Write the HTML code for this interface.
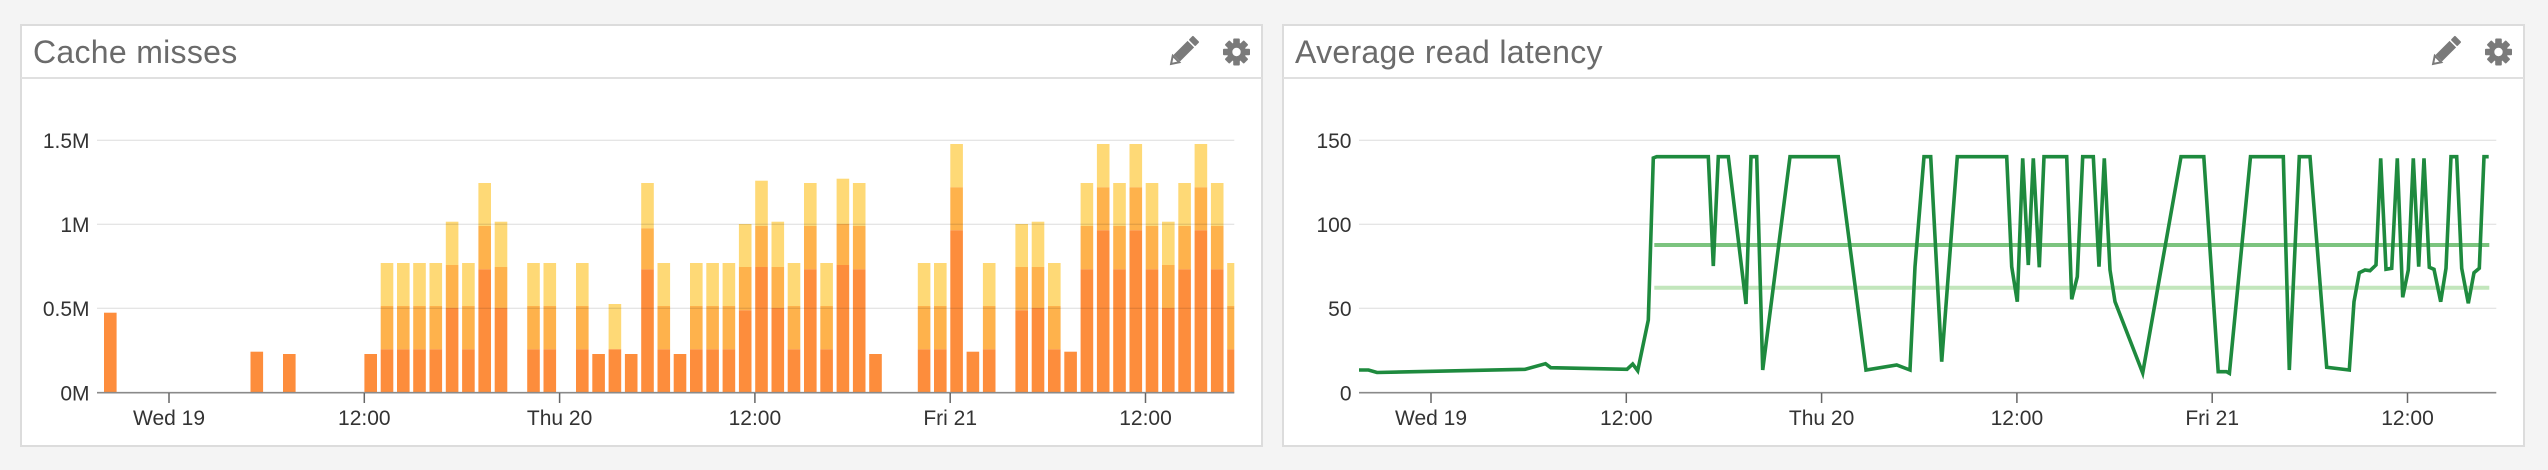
<!DOCTYPE html>
<html>
<head>
<meta charset="utf-8">
<style>
  html, body { margin: 0; padding: 0; }
  body { width: 2548px; height: 470px; overflow: hidden; background: #f4f4f4; }
  svg { display: block; }
  .t { font-family: "Liberation Sans", Arial, sans-serif; }
  .title { font-size: 32px; fill: #6b6b6b; letter-spacing: 0.3px; }
  .lab { font-size: 21px; fill: #333; }
  .d { fill: #fd8d3c; }
  .m { fill: #feb24c; }
  .l { fill: #fed976; }
</style>
</head>
<body>
<svg width="2548" height="470" viewBox="0 0 2548 470" xmlns="http://www.w3.org/2000/svg">
  <defs>
    <clipPath id="cl"><rect x="97" y="100" width="1137.3" height="300"/></clipPath>
    <clipPath id="cr"><rect x="1359" y="100" width="1137.3" height="300"/></clipPath>
    <g id="A"><rect class="l" x="0" y="263" width="12.6" height="43"/><rect class="m" x="0" y="306" width="12.6" height="43.3"/><rect class="d" x="0" y="349.3" width="12.6" height="43.2"/></g>
    <g id="B"><rect class="l" x="0" y="221.7" width="12.6" height="43.3"/><rect class="m" x="0" y="265" width="12.6" height="43"/><rect class="d" x="0" y="308" width="12.6" height="84.5"/></g>
    <g id="B2"><rect class="l" x="0" y="221.7" width="12.6" height="45.3"/><rect class="m" x="0" y="267" width="12.6" height="41"/><rect class="d" x="0" y="308" width="12.6" height="84.5"/></g>
    <g id="C"><rect class="l" x="0" y="183" width="12.6" height="43"/><rect class="m" x="0" y="226" width="12.6" height="43.3"/><rect class="d" x="0" y="269.3" width="12.6" height="123.2"/></g>
    <g id="C2"><rect class="l" x="0" y="183" width="12.6" height="45.3"/><rect class="m" x="0" y="228.3" width="12.6" height="41"/><rect class="d" x="0" y="269.3" width="12.6" height="123.2"/></g>
    <g id="D"><rect class="l" x="0" y="224" width="12.6" height="43"/><rect class="m" x="0" y="267" width="12.6" height="43.3"/><rect class="d" x="0" y="310.3" width="12.6" height="82.2"/></g>
    <g id="E"><rect class="l" x="0" y="144" width="12.6" height="43.3"/><rect class="m" x="0" y="187.3" width="12.6" height="43"/><rect class="d" x="0" y="230.3" width="12.6" height="162.2"/></g>
    <g id="F"><rect class="l" x="0" y="180.7" width="12.6" height="45.3"/><rect class="m" x="0" y="226" width="12.6" height="41"/><rect class="d" x="0" y="267" width="12.6" height="125.5"/></g>
    <g id="G"><rect class="l" x="0" y="178.7" width="12.6" height="45.3"/><rect class="m" x="0" y="224" width="12.6" height="41"/><rect class="d" x="0" y="265" width="12.6" height="127.5"/></g>
    <g id="S1"><rect class="d" x="0" y="354" width="12.6" height="38.5"/></g>
    <g id="S2"><rect class="d" x="0" y="351.7" width="12.6" height="40.8"/></g>
    <g id="pencil" fill="#7a7a7a">
      <g transform="rotate(-45)">
        <rect x="-11" y="-4.6" width="20" height="9.2"/>
        <rect x="10.5" y="-4.6" width="6" height="9.2" rx="1"/>
        <polygon points="-12,-4.6 -19,0 -12,4.6" fill="none" stroke="#7a7a7a" stroke-width="2"/>
        <polygon points="-17,-1.3 -19,0 -17,1.3"/>
      </g>
    </g>
    <g id="gear" fill="#7a7a7a">
      <circle cx="0" cy="0" r="9.5"/>
      <rect x="-3.3" y="-13.5" width="6.6" height="27" rx="1"/>
      <rect x="-3.3" y="-13.5" width="6.6" height="27" rx="1" transform="rotate(45)"/>
      <rect x="-3.3" y="-13.5" width="6.6" height="27" rx="1" transform="rotate(90)"/>
      <rect x="-3.3" y="-13.5" width="6.6" height="27" rx="1" transform="rotate(135)"/>
      <circle cx="0" cy="0" r="4.2" fill="#ffffff"/>
    </g>
  </defs>

  <!-- LEFT PANEL -->
  <rect x="21" y="25" width="1241" height="421" fill="#ffffff" stroke="#dcdcdc" stroke-width="2"/>
  <line x1="21" y1="78" x2="1262" y2="78" stroke="#e0e0e0" stroke-width="2"/>
  <text class="t title" x="33" y="63">Cache misses</text>
  <use href="#pencil" x="1184.5" y="50.5"/>
  <use href="#gear" x="1236.5" y="52"/>

  <g class="t lab" text-anchor="end">
    <text x="89.5" y="148">1.5M</text>
    <text x="89.5" y="232">1M</text>
    <text x="89.5" y="316">0.5M</text>
    <text x="89.5" y="400.5">0M</text>
  </g>

  <g clip-path="url(#cl)">
    <rect class="d" x="104" y="312.7" width="12.6" height="79.8"/>
    <use href="#S2" x="250.5"/>
    <use href="#S1" x="283"/>
    <use href="#S1" x="364.4"/>
    <use href="#A" x="380.7"/>
    <use href="#A" x="397"/>
    <use href="#A" x="413.2"/>
    <use href="#A" x="429.5"/>
    <use href="#B" x="445.8"/>
    <use href="#A" x="462.1"/>
    <use href="#C" x="478.4"/>
    <use href="#B2" x="494.7"/>
    <use href="#A" x="527.2"/>
    <use href="#A" x="543.5"/>
    <use href="#A" x="576"/>
    <use href="#S1" x="592.3"/>
    <g><rect class="l" x="608.6" y="304" width="12.6" height="45.3"/><rect class="d" x="608.6" y="349.3" width="12.6" height="43.2"/></g>
    <use href="#S1" x="624.9"/>
    <use href="#C2" x="641.2"/>
    <use href="#A" x="657.5"/>
    <use href="#S1" x="673.7"/>
    <use href="#A" x="690"/>
    <use href="#A" x="706.3"/>
    <use href="#A" x="722.6"/>
    <use href="#D" x="738.9"/>
    <use href="#F" x="755.2"/>
    <use href="#B2" x="771.5"/>
    <use href="#A" x="787.7"/>
    <use href="#C" x="804"/>
    <use href="#A" x="820.3"/>
    <use href="#G" x="836.6"/>
    <use href="#C" x="852.9"/>
    <use href="#S1" x="869.2"/>
    <use href="#A" x="917.8"/>
    <use href="#A" x="934"/>
    <use href="#E" x="950.3"/>
    <use href="#S2" x="966.6"/>
    <use href="#A" x="982.9"/>
    <use href="#D" x="1015.4"/>
    <use href="#B2" x="1031.7"/>
    <use href="#A" x="1048"/>
    <use href="#S2" x="1064.3"/>
    <use href="#C" x="1080.6"/>
    <use href="#E" x="1096.9"/>
    <use href="#C" x="1113.2"/>
    <use href="#E" x="1129.5"/>
    <use href="#C" x="1145.7"/>
    <use href="#B" x="1162"/>
    <use href="#C" x="1178.3"/>
    <use href="#E" x="1194.6"/>
    <use href="#C" x="1210.9"/>
    <use href="#A" x="1227.2"/>
  </g>

  <g stroke="#000" stroke-opacity="0.1" stroke-width="1.3">
    <line x1="97" y1="140.3" x2="1234.3" y2="140.3"/>
    <line x1="97" y1="224.3" x2="1234.3" y2="224.3"/>
    <line x1="97" y1="308.3" x2="1234.3" y2="308.3"/>
  </g>
  <line x1="97" y1="392.7" x2="1234.3" y2="392.7" stroke="#8a8a8a" stroke-width="1.6"/>
  <g stroke="#666" stroke-width="1.5">
    <line x1="169" y1="393" x2="169" y2="403"/>
    <line x1="364.3" y1="393" x2="364.3" y2="403"/>
    <line x1="559.6" y1="393" x2="559.6" y2="403"/>
    <line x1="754.9" y1="393" x2="754.9" y2="403"/>
    <line x1="950.2" y1="393" x2="950.2" y2="403"/>
    <line x1="1145.5" y1="393" x2="1145.5" y2="403"/>
  </g>
  <g class="t lab" text-anchor="middle">
    <text x="169" y="425">Wed 19</text>
    <text x="364.3" y="425">12:00</text>
    <text x="559.6" y="425">Thu 20</text>
    <text x="754.9" y="425">12:00</text>
    <text x="950.2" y="425">Fri 21</text>
    <text x="1145.5" y="425">12:00</text>
  </g>

  <!-- RIGHT PANEL -->
  <rect x="1283" y="25" width="1241" height="421" fill="#ffffff" stroke="#dcdcdc" stroke-width="2"/>
  <line x1="1283" y1="78" x2="2524" y2="78" stroke="#e0e0e0" stroke-width="2"/>
  <text class="t title" x="1295" y="63">Average read latency</text>
  <use href="#pencil" x="2446.5" y="50.5"/>
  <use href="#gear" x="2498.5" y="52"/>

  <g class="t lab" text-anchor="end">
    <text x="1351.5" y="148">150</text>
    <text x="1351.5" y="232">100</text>
    <text x="1351.5" y="316">50</text>
    <text x="1351.5" y="400.5">0</text>
  </g>

  <g stroke="#000" stroke-opacity="0.1" stroke-width="1.3">
    <line x1="1359" y1="140.3" x2="2496.3" y2="140.3"/>
    <line x1="1359" y1="224.3" x2="2496.3" y2="224.3"/>
    <line x1="1359" y1="308.3" x2="2496.3" y2="308.3"/>
  </g>
  <line x1="1359" y1="392.7" x2="2496.3" y2="392.7" stroke="#8a8a8a" stroke-width="1.6"/>
  <g stroke="#666" stroke-width="1.5">
    <line x1="1431" y1="393" x2="1431" y2="403"/>
    <line x1="1626.3" y1="393" x2="1626.3" y2="403"/>
    <line x1="1821.6" y1="393" x2="1821.6" y2="403"/>
    <line x1="2016.9" y1="393" x2="2016.9" y2="403"/>
    <line x1="2212.2" y1="393" x2="2212.2" y2="403"/>
    <line x1="2407.5" y1="393" x2="2407.5" y2="403"/>
  </g>
  <g class="t lab" text-anchor="middle">
    <text x="1431" y="425">Wed 19</text>
    <text x="1626.3" y="425">12:00</text>
    <text x="1821.6" y="425">Thu 20</text>
    <text x="2016.9" y="425">12:00</text>
    <text x="2212.2" y="425">Fri 21</text>
    <text x="2407.5" y="425">12:00</text>
  </g>

  <g clip-path="url(#cr)">
    <line x1="1654.3" y1="245" x2="2489.3" y2="245" stroke="#7cc47f" stroke-width="4"/>
    <line x1="1654.3" y1="287.8" x2="2489.3" y2="287.8" stroke="#c2e6bc" stroke-width="4"/>
    <polyline fill="none" stroke="#1e8a3e" stroke-width="3.6" stroke-linejoin="miter" stroke-miterlimit="4"
      points="1359,370 1368.5,370 1377,372.5 1525,369.3 1545.5,363.7 1550.8,367.7 1627,369.3 1632.7,364 1637.7,370.7 1648.3,320 1653.3,158 1656.7,156.7 1708.3,156.7 1713.3,266 1718.3,156.7 1728.3,156.7 1746,304 1751,156.7 1756.7,156.7 1762.7,370 1790,156.7 1838.3,156.7 1866,370 1896.7,365 1910,370 1915,266.7 1924,156.7 1930.7,156.7 1941.7,361.7 1957.3,156.7 2006.7,156.7 2011.7,266.7 2017.3,301.7 2022.7,158.3 2028.3,265 2033.3,158.3 2039.3,267.3 2044,156.7 2066.7,156.7 2071.7,299.3 2077.3,276.7 2082.7,156.7 2093.3,156.7 2099,266.7 2104.3,158.3 2110,270 2115,301.7 2142.7,373 2181,156.7 2203.8,156.7 2218.2,371.7 2226.5,371.7 2229.4,373.3 2250.5,156.7 2283.3,156.7 2289.3,370 2299.3,156.7 2310,156.7 2326.7,367.3 2349.3,370 2354,301.7 2359.3,272.7 2365,270 2370,270.7 2376,265 2380.7,158.3 2386,269.3 2391.7,268.3 2397.3,158.3 2402.7,297.3 2408.3,270 2413.3,158.3 2418.7,266.7 2424,158.3 2429.3,267.3 2434,269.3 2440.7,301.7 2446,268.3 2451,156.7 2456.7,156.7 2461.7,268.3 2468.3,303.3 2474,272.7 2479.3,268.3 2484,156.7 2488.7,156.7"/>
  </g>
</svg>
</body>
</html>
